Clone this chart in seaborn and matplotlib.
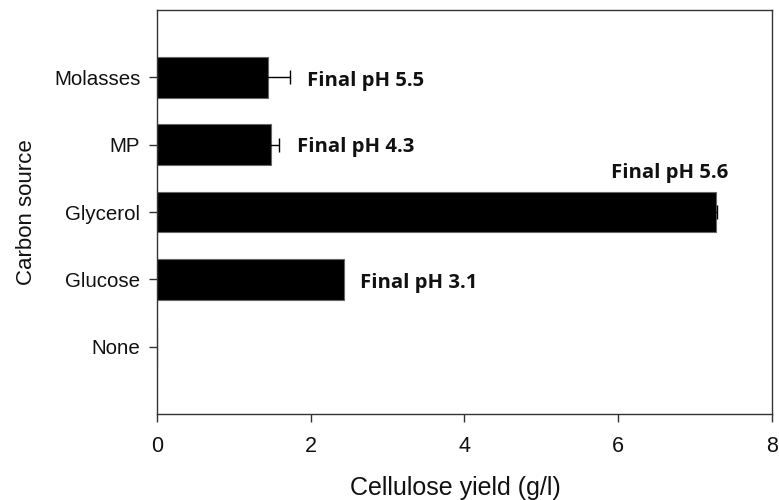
import matplotlib
matplotlib.use("Agg")
import matplotlib.pyplot as plt
import seaborn as sns
import pandas as pd

# Cellulose yield by carbon source
sources = ["Molasses", "MP", "Glycerol", "Glucose", "None"]
yields = [1.45, 1.48, 7.27, 2.43, 0.0]
errors = [0.28, 0.11, 0.02, 0.0, 0.0]
ph_labels = ["Final pH 5.5", "Final pH 4.3", "Final pH 5.6", "Final pH 3.1", ""]
label_x = [1.95, 1.82, 5.9, 2.64, 0.0]
label_dy = [0.05, 0.03, -0.58, 0.05, 0.0]

df = pd.DataFrame({"source": sources, "yield": yields})

sns.set_theme(style="white")
plt.rcParams["font.family"] = ["Liberation Sans", "DejaVu Sans"]

fig = plt.figure(figsize=(7.79, 5.0), dpi=100)
ax = fig.add_axes([0.2015, 0.172, 0.7895, 0.808])

sns.barplot(data=df, x="yield", y="source", order=sources, orient="h",
            color="black", edgecolor="#666666", linewidth=0.8,
            width=0.6, errorbar=None, ax=ax, saturation=1)

ypos = list(range(len(sources)))
for i, (v, e) in enumerate(zip(yields, errors)):
    if e > 0:
        ax.errorbar(v, ypos[i], xerr=e, fmt="none", ecolor="black",
                    elinewidth=1.0, capsize=5, capthick=1.0)

for i, (txt, lx, dy) in enumerate(zip(ph_labels, label_x, label_dy)):
    if txt:
        ax.text(lx, ypos[i] + dy, txt, ha="left", va="center",
                fontsize=14.6, fontweight="bold", family=["Open Sans", "DejaVu Sans"],
                color="#111111")

ax.set_xlim(0, 8)
ax.set_ylim(5, -1)
ax.set_xticks([0, 2, 4, 6, 8])
ax.set_xticklabels(["0", "2", "4", "6", "8"])

for s in ax.spines.values():
    s.set_visible(True)
    s.set_color("#333333")
    s.set_linewidth(1.0)

ax.tick_params(axis="both", which="major", direction="out", length=6,
               width=1.0, color="#333333", labelcolor="#111111")
ax.tick_params(axis="y", labelsize=14.8, pad=6)
ax.tick_params(axis="x", labelsize=15.5, pad=10)
ax.tick_params(bottom=True, left=True)

ax.set_xlabel("Cellulose yield (g/l)", fontsize=18, color="#111111")
ax.set_ylabel("Carbon source", fontsize=16, color="#111111")
ax.xaxis.set_label_coords(0.486, -0.153)
ax.yaxis.set_label_coords(-0.195, 0.5)

fig.savefig("out.png", dpi=100, facecolor="white")
